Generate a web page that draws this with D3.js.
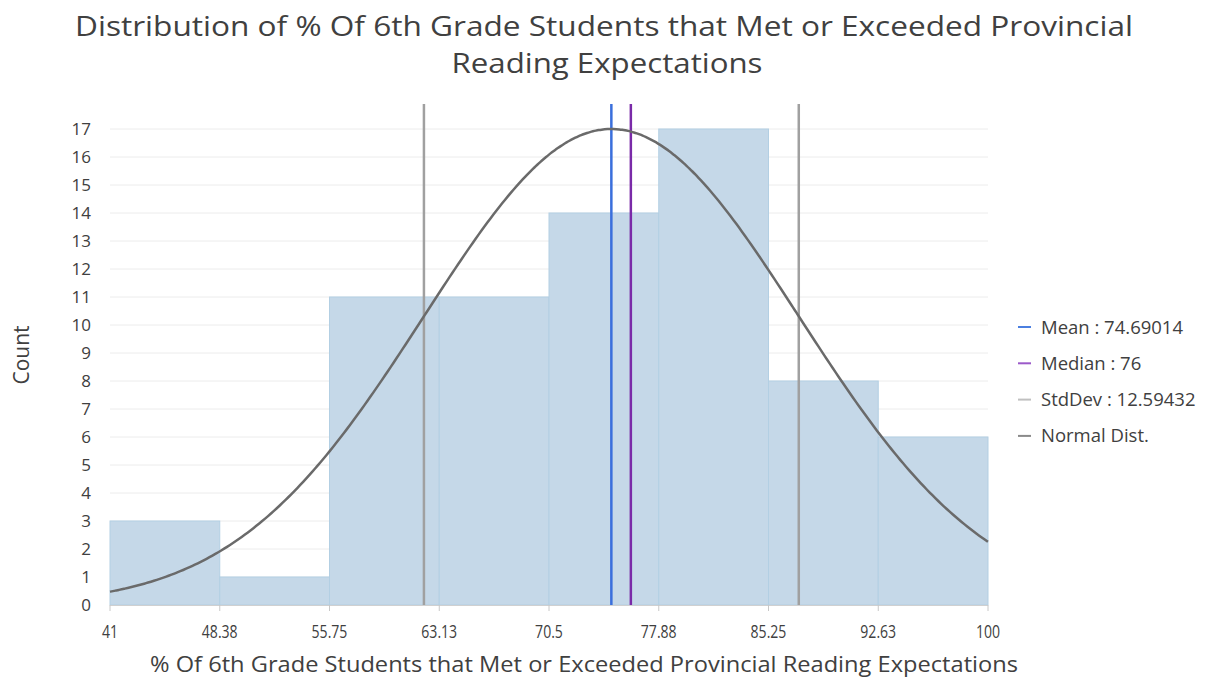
<!DOCTYPE html>
<html><head><meta charset="utf-8">
<script src="https://cdn.jsdelivr.net/npm/d3@7"></script>
<style>body{margin:0;background:#fff;}svg{display:block;font-family:"Open Sans","Noto Sans",sans-serif;}</style>
</head><body><svg id="c" width="1211" height="679"></svg>
<script>
const binEdges = [41, 48.375, 55.75, 63.125, 70.5, 77.875, 85.25, 92.625, 100];
const tickLabels = ["41","48.38","55.75","63.13","70.5","77.88","85.25","92.63","100"];
const counts = [3, 1, 11, 11, 14, 17, 8, 6];
const meanVal = 74.69014;
const medianVal = 76;
const stdVal = 12.59432;
const curvePeak = 17;
const legendItems = ["Mean : 74.69014", "Median : 76", "StdDev : 12.59432", "Normal Dist."];
const legendColors = ["#4b7fe0", "#9b59c9", "#c0c0c0", "#8a8a8a"];

const svg = d3.select("#c");
const x = d3.scaleLinear().domain([41,100]).range([110,988]);
const y = d3.scaleLinear().domain([0,17]).range([605,129]);

// title
svg.append("text").attr("x",604).attr("y",36).attr("text-anchor","middle")
  .attr("font-size",28).attr("fill","#404040").text("Distribution of % Of 6th Grade Students that Met or Exceeded Provincial")
  .attr("textLength",1058).attr("lengthAdjust","spacingAndGlyphs");
svg.append("text").attr("x",607).attr("y",73).attr("text-anchor","middle")
  .attr("font-size",28).attr("fill","#404040").text("Reading Expectations")
  .attr("textLength",311).attr("lengthAdjust","spacingAndGlyphs");

// gridlines
svg.append("g").selectAll("line").data(d3.range(1,18)).join("line")
  .attr("x1",110).attr("x2",988).attr("y1",d=>y(d)).attr("y2",d=>y(d))
  .attr("stroke","#ececec").attr("stroke-width",1);

// y tick labels
svg.append("g").selectAll("text").data(d3.range(0,18)).join("text")
  .attr("x",91).attr("y",d=>y(d)+6).attr("text-anchor","end")
  .attr("font-size",17).attr("fill","#404040").text(d=>d);

// bars
const bins = counts.map((c,i)=>({x0:binEdges[i],x1:binEdges[i+1],c}));
svg.append("g").selectAll("rect").data(bins).join("rect")
  .attr("x",d=>x(d.x0)).attr("width",d=>x(d.x1)-x(d.x0))
  .attr("y",d=>y(d.c)).attr("height",d=>y(0)-y(d.c))
  .attr("fill","#c5d8e8").attr("stroke","#b3cfe3").attr("stroke-width",1);

// x axis line and ticks
svg.append("line").attr("x1",110).attr("x2",988).attr("y1",605.5).attr("y2",605.5).attr("stroke","#d0d0d0");
svg.append("g").selectAll("line").data(binEdges).join("line")
  .attr("x1",d=>x(d)).attr("x2",d=>x(d)).attr("y1",605).attr("y2",611).attr("stroke","#c8c8c8");
svg.append("g").selectAll("text").data(binEdges).join("text")
  .attr("x",d=>x(d)).attr("y",638).attr("text-anchor","middle")
  .attr("font-size",18).attr("fill","#404040").text((d,i)=>tickLabels[i])
  .each(function(){const w=this.getComputedTextLength();d3.select(this).attr("textLength",w*0.78).attr("lengthAdjust","spacingAndGlyphs");});

// stddev lines
[meanVal-stdVal, meanVal+stdVal].forEach(v=>{
  svg.append("line").attr("x1",x(v)).attr("x2",x(v)).attr("y1",104).attr("y2",605)
    .attr("stroke","#a0a0a0").attr("stroke-width",2.5);
});
// mean and median
svg.append("line").attr("x1",x(meanVal)).attr("x2",x(meanVal)).attr("y1",104).attr("y2",605)
  .attr("stroke","#3a6fdc").attr("stroke-width",2.5);
svg.append("line").attr("x1",x(medianVal)).attr("x2",x(medianVal)).attr("y1",104).attr("y2",605)
  .attr("stroke","#7a2aa8").attr("stroke-width",2.5);

// normal curve
const pts = d3.range(0,301).map(i=>41+i*59/300);
const line = d3.line().x(d=>x(d)).y(d=>y(curvePeak*Math.exp(-0.5*Math.pow((d-meanVal)/stdVal,2)))).curve(d3.curveBasis);
svg.append("path").attr("d",line(pts)).attr("fill","none").attr("stroke","#6a6a6a").attr("stroke-width",2.5);

// axis titles
svg.append("text").attr("x",584).attr("y",672).attr("text-anchor","middle")
  .attr("font-size",21).attr("fill","#404040").text("% Of 6th Grade Students that Met or Exceeded Provincial Reading Expectations")
  .attr("textLength",868).attr("lengthAdjust","spacingAndGlyphs");
svg.append("text").attr("transform","translate(29,355) rotate(-90)").attr("text-anchor","middle")
  .attr("font-size",21).attr("fill","#404040").text("Count");

// legend
const lg = svg.append("g").selectAll("g").data(legendItems).join("g")
  .attr("transform",(d,i)=>`translate(1018,${327+i*36.3})`);
lg.append("line").attr("x1",0).attr("x2",13).attr("y1",0).attr("y2",0)
  .attr("stroke",(d,i)=>legendColors[i]).attr("stroke-width",2);
lg.append("text").attr("x",23).attr("y",6.5).attr("font-size",18.5).attr("fill","#404040").text(d=>d);
</script></body></html>
